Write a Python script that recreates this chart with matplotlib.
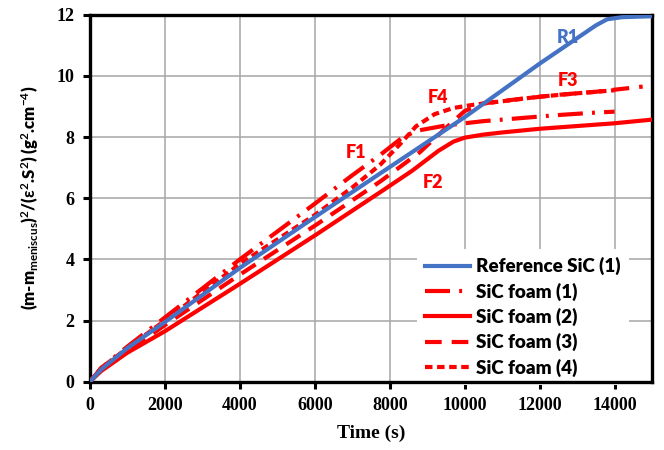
import matplotlib
matplotlib.use("Agg")
import matplotlib.pyplot as plt

# --- data -------------------------------------------------------------
t_r1 = [0, 300, 1000, 2000, 4000, 6000, 8000, 10000, 12000, 13500, 13800, 14200, 15000]
v_r1 = [0, 0.4, 1.1, 1.95, 3.72, 5.38, 7.02, 8.65, 10.4, 11.65, 11.85, 11.92, 11.95]

t_f1 = [0, 300, 1000, 2000, 4000, 6000, 7000, 7750, 8300, 8700, 9500, 10500, 11500, 12500, 13500, 14000]
v_f1 = [0, 0.45, 1.15, 2.1, 4.0, 5.82, 6.75, 7.42, 7.95, 8.2, 8.38, 8.52, 8.62, 8.72, 8.8, 8.83]

t_f2 = [0, 300, 1000, 2000, 4000, 6000, 7750, 8600, 9300, 9700, 10000, 10500, 11000, 12000, 13000, 14000, 15000]
v_f2 = [0, 0.35, 0.95, 1.65, 3.2, 4.78, 6.2, 6.9, 7.55, 7.85, 7.98, 8.08, 8.15, 8.27, 8.36, 8.45, 8.57]

t_f3 = [0, 300, 1000, 2000, 4000, 6000, 7750, 8800, 9500, 10000, 10500, 11500, 12500, 13500, 14750]
v_f3 = [0, 0.4, 1.0, 1.85, 3.5, 5.1, 6.55, 7.5, 8.3, 8.85, 9.1, 9.25, 9.38, 9.48, 9.65]

t_f4 = [0, 300, 1000, 2000, 4000, 6000, 7000, 7750, 8300, 8700, 9200, 9700, 10200, 11000, 12000, 13000, 14000]
v_f4 = [0, 0.45, 1.1, 2.0, 3.85, 5.45, 6.35, 7.1, 7.8, 8.35, 8.75, 8.95, 9.05, 9.17, 9.32, 9.43, 9.53]

series_names = ["Reference SiC (1)", "SiC foam (1)", "SiC foam (2)", "SiC foam (3)", "SiC foam (4)"]
curve_tags = ["R1", "F1", "F2", "F3", "F4"]
tag_pos = [(12450, 11.25), (6830, 7.5), (8880, 6.5), (12480, 9.85), (9010, 9.3)]

x_ticks = [0, 2000, 4000, 6000, 8000, 10000, 12000, 14000]
y_ticks = [0, 2, 4, 6, 8, 10, 12]

# --- styling ----------------------------------------------------------
BLUE = "#4472C4"
RED = "#FF0000"
tick_font = {"family": "Liberation Serif", "weight": "bold", "size": 13}
sans_bold = {"family": "Lato", "weight": "heavy"}

plt.rcParams["mathtext.fontset"] = "custom"
plt.rcParams["mathtext.rm"] = "Lato:bold"
plt.rcParams["mathtext.it"] = "Lato:bold"
plt.rcParams["mathtext.bf"] = "Lato:bold"

fig = plt.figure(figsize=(6.64, 4.5), dpi=100)
ax = fig.add_axes([0.1355, 0.1518, 0.8465, 0.8155])

lw = 3.0
ax.plot(t_r1, v_r1, color=BLUE, lw=lw, label=series_names[0], zorder=4)
ax.plot(t_f1, v_f1, color=RED, lw=lw, linestyle=(0, (6.0, 2.2, 0.7, 2.2)),
        label=series_names[1], zorder=3)
ax.plot(t_f2, v_f2, color=RED, lw=lw, label=series_names[2], zorder=3)
ax.plot(t_f3, v_f3, color=RED, lw=lw, linestyle=(0, (4.0, 2.4)),
        label=series_names[3], zorder=3)
ax.plot(t_f4, v_f4, color=RED, lw=lw, linestyle=(0, (1.8, 1.1)),
        label=series_names[4], zorder=3)

for tag, (tx, ty) in zip(curve_tags, tag_pos):
    ax.text(tx, ty, tag, color=BLUE if tag == "R1" else RED, fontsize=13,
            ha="left", va="center", **sans_bold, zorder=5)

ax.set_xlim(0, 15000)
ax.set_ylim(0, 12)
ax.set_xticks(x_ticks)
ax.set_yticks(y_ticks)
ax.set_xticklabels([str(v) for v in x_ticks], fontdict=tick_font)
ax.set_yticklabels([str(v) for v in y_ticks], fontdict=tick_font)
ax.tick_params(direction="out", length=5, width=2.2, color="black", pad=6)

ax.grid(True, color="#A6A6A6", lw=1.1, zorder=0)
ax.set_axisbelow(True)
for sp in ax.spines.values():
    sp.set_linewidth(2.4)
    sp.set_color("black")

ax.set_xlabel("Time (s)", fontdict={"family": "Liberation Serif", "weight": "bold",
                                     "size": 14}, labelpad=8)
ax.set_ylabel(r"(m-m$_{\mathrm{meniscus}}$)$^{\mathrm{2}}$/($\varepsilon^{\mathrm{2}}$.S$^{\mathrm{2}}$) (g$^{\mathrm{2}}$.cm$^{\mathrm{-4}}$)",
              fontdict={"family": "Lato", "weight": "heavy", "size": 12}, labelpad=11)

leg = ax.legend(loc="lower right", bbox_to_anchor=(0.975, -0.035), frameon=True,
                prop={"family": "Lato", "weight": "heavy", "size": 13.5},
                handlelength=2.4, handletextpad=0.3, labelspacing=0.38,
                borderpad=0.45, fancybox=False)
leg.get_frame().set_facecolor("white")
leg.get_frame().set_edgecolor("none")
leg.get_frame().set_alpha(1.0)
# drawn beneath the spines so the frame edge stays visible
leg.set_zorder(2.4)

fig.savefig("out.png", dpi=100)
